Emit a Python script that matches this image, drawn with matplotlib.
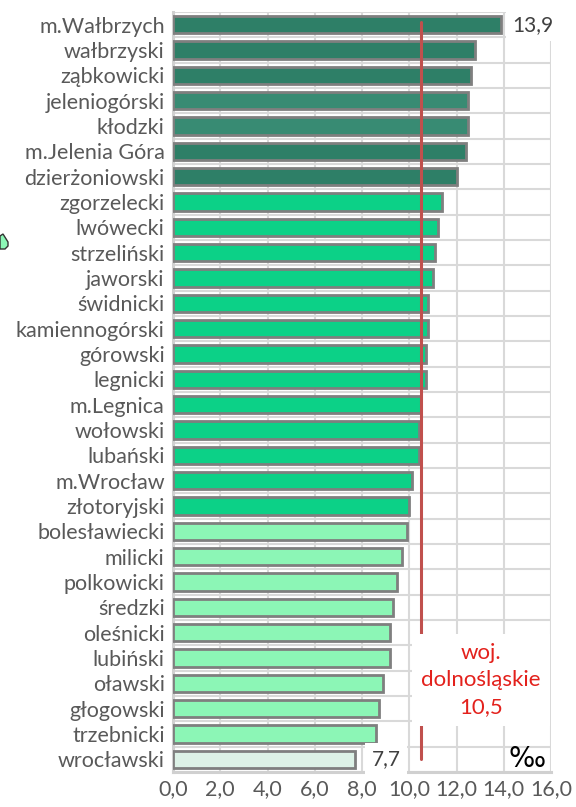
import matplotlib
matplotlib.use("Agg")
import matplotlib.pyplot as plt
from matplotlib.patches import Polygon

plt.rcParams['font.family'] = ['Lato', 'DejaVu Sans']

categories = ["m.Wałbrzych", "wałbrzyski", "ząbkowicki", "jeleniogórski", "kłodzki",
              "m.Jelenia Góra", "dzierżoniowski", "zgorzelecki", "lwówecki", "strzeliński",
              "jaworski", "świdnicki", "kamiennogórski", "górowski", "legnicki",
              "m.Legnica", "wołowski", "lubański", "m.Wrocław", "złotoryjski",
              "bolesławiecki", "milicki", "polkowicki", "średzki", "oleśnicki",
              "lubiński", "oławski", "głogowski", "trzebnicki", "wrocławski"]
values = [13.9, 12.8, 12.6, 12.5, 12.5, 12.4, 12.0, 11.4, 11.2, 11.1,
          11.0, 10.8, 10.8, 10.7, 10.7, 10.5, 10.4, 10.4, 10.1, 10.0,
          9.9, 9.7, 9.5, 9.3, 9.2, 9.2, 8.9, 8.7, 8.6, 7.7]
groups = [0, 0, 0, 1, 1, 0, 0, 2, 2, 2, 2, 2, 2, 2, 2, 2, 2, 2, 2, 2,
          3, 3, 3, 3, 3, 3, 3, 3, 3, 4]
group_colors = ["#2E7F67", "#388B73", "#0CD187", "#8CF6B6", "#DDF2E7"]
region_value = 10.5
region_label = "woj.\ndolnośląskie\n10,5"
xticks = [0, 2, 4, 6, 8, 10, 12, 14, 16]
xtick_labels = ["0,0", "2,0", "4,0", "6,0", "8,0", "10,0", "12,0", "14,0", "16,0"]

fig = plt.figure(figsize=(5.76, 8.07), dpi=100)
ax = fig.add_axes([173/576, 1-772/807, (551-173)/576, (772-12)/807])

n = len(categories)
ypos = list(range(n))
ax.barh(ypos, values, height=0.68, color=[group_colors[g] for g in groups],
        edgecolor="#7F7F7F", linewidth=2.0, zorder=3)

ax.set_xlim(0, 16)
ax.set_ylim(n - 0.5, -0.5)
ax.set_xticks(xticks)
ax.set_xticklabels(xtick_labels)
ax.set_yticks(ypos)
ax.set_yticklabels(categories)
ax.tick_params(axis='both', length=0, labelsize=15.5, colors="#595959")
ax.tick_params(axis='x', pad=5)
ax.tick_params(axis='y', pad=6)

# grid lines
for x in xticks[1:]:
    ax.axvline(x, color="#D9D9D9", linewidth=1.5, zorder=1)
for k in range(n + 1):
    ax.axhline(k - 0.5, color="#D9D9D9", linewidth=1.5, zorder=1)
for s in ['top', 'right']:
    ax.spines[s].set_visible(False)
for s in ['left', 'bottom']:
    ax.spines[s].set_color("#D0D0D0")
    ax.spines[s].set_linewidth(2.2)

# regional average line
ax.plot([region_value, region_value], [-0.1, 29.0], color="#C0504D",
        linewidth=2.2, zorder=4, solid_capstyle='round')

# annotation box
ax.text(13.04, 25.87, region_label, ha='center', va='center', color="#E3211C",
        fontsize=16, linespacing=1.42, zorder=6,
        bbox=dict(boxstyle='square,pad=0.4', facecolor='white', edgecolor='none'))

# data labels
ax.text(14.35, 0, "13,9", ha='left', va='center', color="#404040", fontsize=15,
        zorder=6, bbox=dict(boxstyle='square,pad=0.3', facecolor='white', edgecolor='none'))
ax.text(8.4, 29, "7,7", ha='left', va='center', color="#404040", fontsize=15,
        zorder=6, bbox=dict(boxstyle='square,pad=0.3', facecolor='white', edgecolor='none'))
ax.text(15.0, 29, "‰", ha='center', va='center', color="black", fontsize=20,
        family=['DejaVu Sans'], zorder=6)

# clipped shape at left edge
W, H = 576, 807
pts = [(0, 236), (3, 234), (8, 242), (8, 246), (5, 249), (0, 249)]
fig.patches.append(Polygon([(x / W, 1 - y / H) for x, y in pts], closed=True,
                           transform=fig.transFigure, facecolor="#8CF6B6",
                           edgecolor="#333333", linewidth=1.0))

fig.savefig("out.png", dpi=100)
